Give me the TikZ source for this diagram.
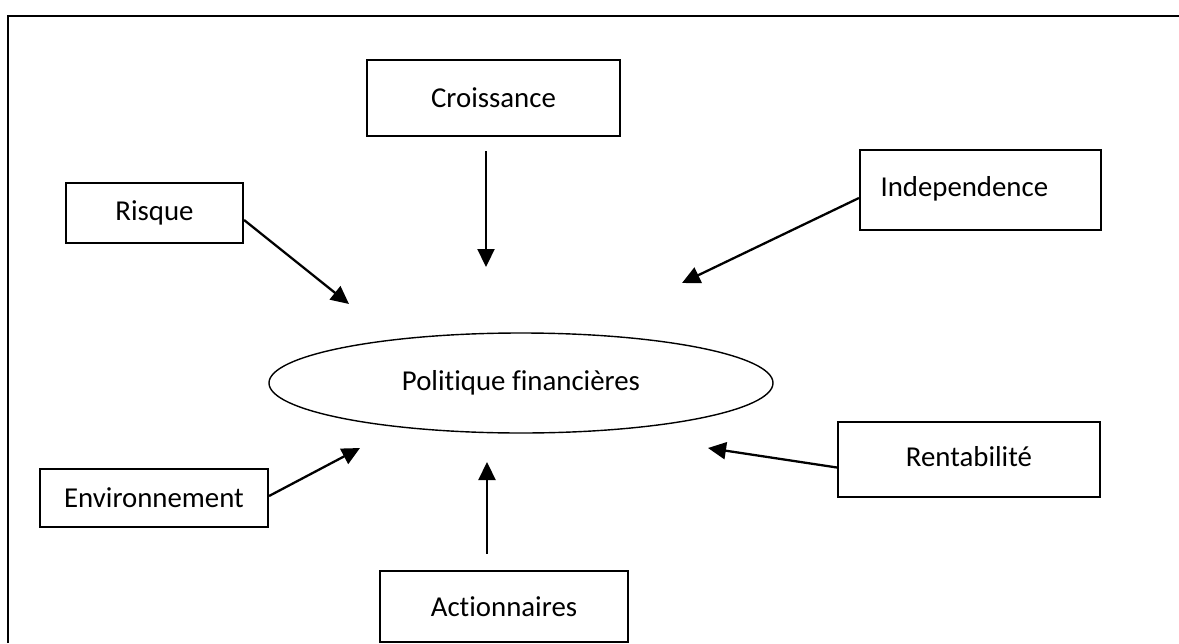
\documentclass[tikz,border=0pt]{standalone}
\usepackage{fontspec}
\setmainfont{Carlito}[RawFeature=-liga]
\usepackage{tikz}
\usetikzlibrary{arrows.meta,shapes.geometric}

\tikzset{
  facteur/.style={draw, line width=1.2pt, rectangle, inner sep=0pt},
  arr/.style={line width=1.3pt, -{Triangle[length=0.36cm,width=0.34cm]}}
}

\begin{document}
\begin{tikzpicture}[font=\fontsize{16.4}{19}\selectfont]
\useasboundingbox (0,0) rectangle (23.58,12.86);
\draw[line width=1.6pt] (0.16,0) -- (0.16,12.54) -- (23.58,12.54);

\node[draw, ellipse, line width=0.8pt, minimum width=10.08cm, minimum height=2cm, inner sep=0pt] (pol) at (10.42,5.2) {Politique financières};

\node[facteur, minimum width=5.06cm, minimum height=1.52cm] (croi) at (9.87,10.9) {Croissance};
\node[facteur, minimum width=4.82cm, minimum height=1.6cm, text width=4cm, align=left] (indep) at (19.61,9.06) {\raisebox{0.16cm}{Independence}};
\node[facteur, minimum width=3.54cm, minimum height=1.2cm] (risq) at (3.09,8.6) {Risque};
\node[facteur, minimum width=4.56cm, minimum height=1.16cm] (env) at (3.08,2.9) {Environnement};
\node[facteur, minimum width=5.24cm, minimum height=1.5cm] (rent) at (19.38,3.67) {\raisebox{0.14cm}{Rentabilité}};
\node[facteur, minimum width=4.96cm, minimum height=1.42cm] (act) at (10.08,0.73) {Actionnaires};

\coordinate (tc) at (9.72,7.52);
\coordinate (tr) at (6.98,6.78);
\coordinate (ti) at (13.64,7.2);
\coordinate (te) at (7.2,3.9);
\coordinate (ta) at (9.74,3.62);
\coordinate (tn) at (14.16,3.9);

\draw[arr] ([xshift=-0.15cm,yshift=-0.28cm]croi.south) -- (tc);
\draw[arr] ([yshift=-0.14cm]risq.east) -- (tr);
\draw[arr] ([yshift=-0.16cm]indep.west) -- (ti);
\draw[arr] ([yshift=0.04cm]env.east) -- (te);
\draw[arr] ([xshift=-0.34cm,yshift=0.32cm]act.north) -- (ta);
\draw[arr] ([yshift=-0.16cm]rent.west) -- (tn);

\end{tikzpicture}
\end{document}
